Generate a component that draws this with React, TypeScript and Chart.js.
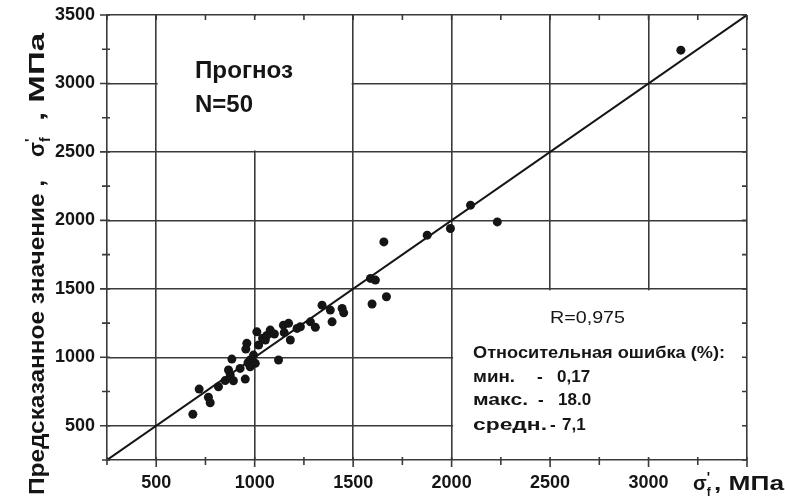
import React, { useEffect, useRef } from "react";
import { Chart, registerables } from "chart.js";

Chart.register(...registerables);

// Measured (x) vs predicted (y) values, MPa
const actualValues = [
  686, 718, 765, 774, 816, 850, 867, 876, 884, 892,
  926, 952, 955, 960, 966, 977, 977, 994, 1003, 1011,
  1020, 1040, 1054, 1062, 1079, 1100, 1121, 1146, 1150, 1172,
  1181, 1215, 1232, 1283, 1308, 1342, 1384, 1393, 1444, 1452,
  1588, 1596, 1613, 1656, 1669, 1876, 1994, 2096, 2232, 3164,
];
const predictedValues = [
  584, 768, 708, 668, 785, 830, 907, 870, 987, 829,
  919, 841, 1060, 1102, 960, 980, 931, 1016, 956, 1186,
  1090, 1140, 1126, 1160, 1199, 1170, 980, 1235, 1180, 1248,
  1126, 1211, 1223, 1259, 1219, 1381, 1345, 1259, 1357, 1325,
  1576, 1389, 1564, 1843, 1442, 1892, 1941, 2111, 1989, 3243,
];
const idealLine = [250, 3500];
const axisMin = 250;
const axisMax = 3500;
const minorStep = 250;
const majorStep = 500;
const xLabelValues = [500, 1000, 1500, 2000, 2500, 3000];
const yLabelValues = [500, 1000, 1500, 2000, 2500, 3000, 3500];

const titleBoxLines = ["Прогноз", "N=50"];
const correlationText = "R=0,975";
const errorHeader = "Относительная ошибка (%):";
const errorNames = ["мин.", "макс.", "средн."];
const errorValues = ["0,17", "18.0", "7,1"];

const INK = "#151515";
const GRID = "#3a3a3a";
const FONT = "'Liberation Sans', Arial, sans-serif";

function fitText(ctx: CanvasRenderingContext2D, text: string, x: number, y: number, width: number, font: string) {
  ctx.save();
  ctx.font = font;
  const w = ctx.measureText(text).width;
  ctx.translate(x, y);
  ctx.scale(width / w, 1);
  ctx.textAlign = "left";
  ctx.textBaseline = "alphabetic";
  ctx.fillText(text, 0, 0);
  ctx.restore();
}

function drawSigma(ctx: CanvasRenderingContext2D, x: number, y: number, size: number) {
  ctx.save();
  ctx.textAlign = "left";
  ctx.textBaseline = "alphabetic";
  ctx.font = `bold ${size}px ${FONT}`;
  ctx.fillText("σ", x, y);
  const w = ctx.measureText("σ").width;
  ctx.font = `bold ${Math.round(size * 0.7)}px ${FONT}`;
  ctx.fillText("'", x + w, y - size * 0.42);
  ctx.font = `bold ${Math.round(size * 0.62)}px ${FONT}`;
  ctx.fillText("f", x + w, y + size * 0.28);
  ctx.restore();
}

const overlayPlugin = {
  id: "overlay",
  beforeDatasetsDraw(chart: any) {
    const { ctx } = chart;
    const xs = chart.scales.x;
    const ys = chart.scales.y;
    const clearBox = (x0: number, x1: number, y0: number, y1: number) => {
      const l = xs.getPixelForValue(x0);
      const r = xs.getPixelForValue(x1);
      const t = ys.getPixelForValue(y1);
      const b = ys.getPixelForValue(y0);
      ctx.save();
      ctx.fillStyle = "#ffffff";
      ctx.fillRect(l + 1.5, t + 1.5, r - l - 3, b - t - 3);
      ctx.restore();
    };
    clearBox(500, 1500, 2500, 3500);
    clearBox(2000, 3500, 250, 1500);
  },
  afterDraw(chart: any) {
    const { ctx, chartArea } = chart;
    const xs = chart.scales.x;
    const ys = chart.scales.y;
    const { left, right, top, bottom } = chartArea;
    ctx.save();
    ctx.strokeStyle = GRID;
    ctx.lineWidth = 1.6;
    ctx.beginPath();
    for (let v = axisMin; v <= axisMax; v += minorStep) {
      const major = v % majorStep === 0;
      const px = xs.getPixelForValue(v);
      const py = ys.getPixelForValue(v);
      ctx.moveTo(px, bottom - 3);
      ctx.lineTo(px, bottom + (major ? 7 : 5));
      ctx.moveTo(left + 3, py);
      ctx.lineTo(left - (major ? 7 : 5), py);
      ctx.moveTo(px, top);
      ctx.lineTo(px, top + 5);
      ctx.moveTo(right, py);
      ctx.lineTo(right - 5, py);
    }
    ctx.stroke();
    ctx.restore();

    ctx.save();
    ctx.fillStyle = INK;
    // title box
    fitText(ctx, titleBoxLines[0], 195, 78, 98, `bold 23px ${FONT}`);
    fitText(ctx, titleBoxLines[1], 195, 112, 58, `bold 23px ${FONT}`);
    // legend box
    fitText(ctx, correlationText, 550, 323, 75, `17px ${FONT}`);
    fitText(ctx, errorHeader, 473, 358, 252, `bold 17px ${FONT}`);
    const rows = [382, 405, 430];
    const nameW = [42, 55, 74];
    const dashX = [537, 538, 550];
    const valX = [557, 558, 562];
    for (let i = 0; i < 3; i++) {
      fitText(ctx, errorNames[i], 473, rows[i], nameW[i], `bold 17px ${FONT}`);
      ctx.font = `bold 17px ${FONT}`;
      ctx.textAlign = "left";
      ctx.textBaseline = "alphabetic";
      ctx.fillText("-", dashX[i], rows[i]);
      ctx.fillText(errorValues[i], valX[i], rows[i]);
    }

    // x axis title
    drawSigma(ctx, 693, 490, 20);
    fitText(ctx, ", МПа", 714, 490, 70, `bold 20px ${FONT}`);

    // y axis title (rotated)
    ctx.save();
    ctx.translate(44, 495);
    ctx.rotate(-Math.PI / 2);
    fitText(ctx, "Предсказанное значение ,", 0, 0, 315, `bold 22px ${FONT}`);
    drawSigma(ctx, 338, 0, 22);
    fitText(ctx, ", МПа", 374, 0, 88, `bold 22px ${FONT}`);
    ctx.restore();
    ctx.restore();
  },
};

export default function App() {
  const canvasRef = useRef<HTMLCanvasElement | null>(null);

  useEffect(() => {
    document.body.style.margin = "0";
    const canvas = canvasRef.current;
    if (!canvas) return;
    const points = actualValues.map((v, i) => ({ x: v, y: predictedValues[i] }));
    const line = idealLine.map((v) => ({ x: v, y: v }));
    const gridColor = (c: any) => (c.tick && c.tick.value % majorStep === 0 ? GRID : "rgba(0,0,0,0)");
    const buildTicks = (s: any) => {
      const t = [];
      for (let v = axisMin; v <= axisMax; v += minorStep) t.push({ value: v });
      s.ticks = t;
    };
    const chart = new Chart(canvas, {
      type: "scatter",
      data: {
        datasets: [
          {
            data: line,
            showLine: true,
            borderColor: INK,
            borderWidth: 2,
            pointRadius: 0,
            fill: false,
          } as any,
          {
            data: points,
            backgroundColor: INK,
            borderColor: INK,
            pointRadius: 4.5,
            borderWidth: 0,
          },
        ],
      },
      options: {
        responsive: false,
        animation: false,
        devicePixelRatio: 1,
        layout: { padding: { top: 15, right: 38, left: 0, bottom: 0 } },
        plugins: { legend: { display: false }, tooltip: { enabled: false } },
        scales: {
          x: {
            type: "linear",
            min: axisMin,
            max: axisMax,
            afterFit: (s: any) => {
              s.height = 42;
              s.paddingLeft = 0;
              s.paddingRight = 0;
            },
            afterBuildTicks: buildTicks,
            ticks: {
              autoSkip: false,
              maxRotation: 0,
              padding: 12,
              color: INK,
              font: { family: FONT, size: 18, weight: "bold" },
              callback: (v: any) => (xLabelValues.includes(v) ? String(v) : ""),
            },
            grid: { color: gridColor, lineWidth: 1.6, drawTicks: false },
            border: { display: true, color: GRID, width: 1.6 },
          },
          y: {
            type: "linear",
            min: axisMin,
            max: axisMax,
            afterFit: (s: any) => {
              s.width = 107;
              s.paddingTop = 0;
              s.paddingBottom = 0;
            },
            afterBuildTicks: buildTicks,
            ticks: {
              autoSkip: false,
              padding: 12,
              color: INK,
              font: { family: FONT, size: 18, weight: "bold" },
              callback: (v: any) => (yLabelValues.includes(v) ? String(v) : ""),
            },
            grid: { color: gridColor, lineWidth: 1.6, drawTicks: false },
            border: { display: true, color: GRID, width: 1.6 },
          },
        },
      },
      plugins: [overlayPlugin],
    });
    return () => chart.destroy();
  }, []);

  return (
    <div style={{ position: "absolute", left: 0, top: 0, width: 785, height: 502, background: "#fff" }}>
      <canvas ref={canvasRef} width={785} height={502} style={{ display: "block" }} />
    </div>
  );
}
